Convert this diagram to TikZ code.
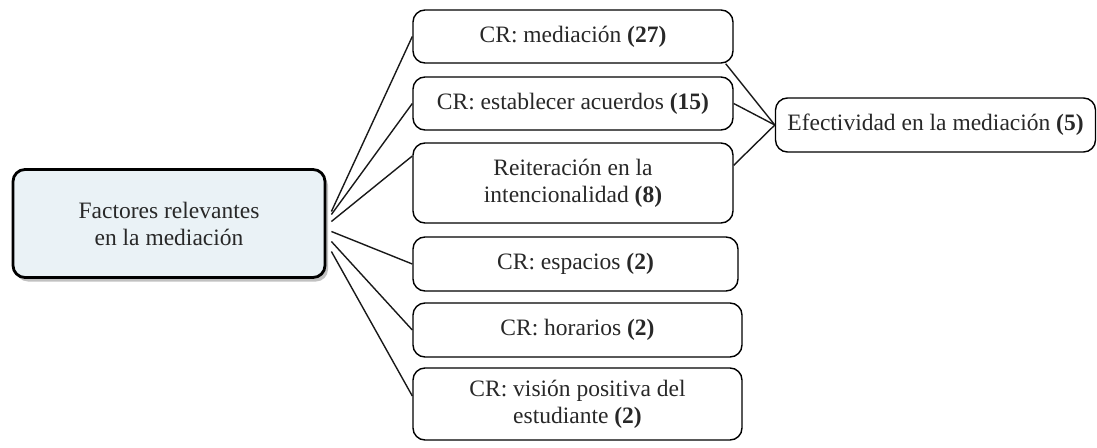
\documentclass[tikz,border=0pt]{standalone}
\usepackage{fontspec}
\setmainfont{Liberation Serif}
\usetikzlibrary{shadows}
\definecolor{mainfill}{RGB}{234,242,246}
\definecolor{txt}{RGB}{40,40,40}
\begin{document}
\begin{tikzpicture}[x=1pt,y=-1pt,
  box/.style={draw=black,line width=1.4pt,rounded corners=12pt,fill=white,align=center,inner sep=2pt,
    font=\fontsize{23.5}{27}\selectfont,text=txt},
  mainbox/.style={box,line width=2.8pt,fill=mainfill,
    drop shadow={shadow xshift=3pt,shadow yshift=-4pt,fill=black!30,opacity=0.8}},
  link/.style={draw=black!90,line width=1.4pt}]
\useasboundingbox (0,0) rectangle (1097,447);
\node[mainbox,minimum width=312pt,minimum height=108pt] (main) at (169,223.5) {Factores relevantes\\en la mediación};
\node[box,minimum width=320pt,minimum height=53pt] (b1) at (573,36.5) {CR: mediación \textbf{(27)}};
\node[box,minimum width=320pt,minimum height=53pt] (b2) at (573,103.5) {CR: establecer acuerdos \textbf{(15)}};
\node[box,minimum width=320pt,minimum height=80pt] (b3) at (573,183) {Reiteración en la\\intencionalidad \textbf{(8)}};
\node[box,minimum width=325pt,minimum height=54pt] (b4) at (575.5,264) {CR: espacios \textbf{(2)}};
\node[box,minimum width=329pt,minimum height=54pt] (b5) at (577.5,330) {CR: horarios \textbf{(2)}};
\node[box,minimum width=329pt,minimum height=72pt] (b6) at (577.5,404) {CR: visión positiva del\\estudiante \textbf{(2)}};
\node[box,minimum width=320pt,minimum height=54pt] (eff) at (935.5,125) {Efectividad en la mediación \textbf{(5)}};
\coordinate (s1) at ([shift={(5,-12)}]main.east);
\coordinate (s2) at ([shift={(5,-9)}]main.east);
\coordinate (s3) at ([shift={(5,-2)}]main.east);
\coordinate (s4) at ([shift={(5,8)}]main.east);
\coordinate (s5) at ([shift={(5,18)}]main.east);
\coordinate (s6) at ([shift={(5,28)}]main.east);
\draw[link] (s1) -- (b1.west);
\draw[link] (s2) -- (b2.west);
\draw[link] (s3) -- ([yshift=27pt]b3.west);
\draw[link] (s4) -- (b4.west);
\draw[link] (s5) -- (b5.west);
\draw[link] (s6) -- ([yshift=8pt]b6.west);
\draw[link] ([xshift=-8pt]b1.south east) -- (eff.west);
\draw[link] (b2.east) -- (eff.west);
\draw[link] ([yshift=-23pt]b3.north east) -- (eff.west);
\end{tikzpicture}
\end{document}
